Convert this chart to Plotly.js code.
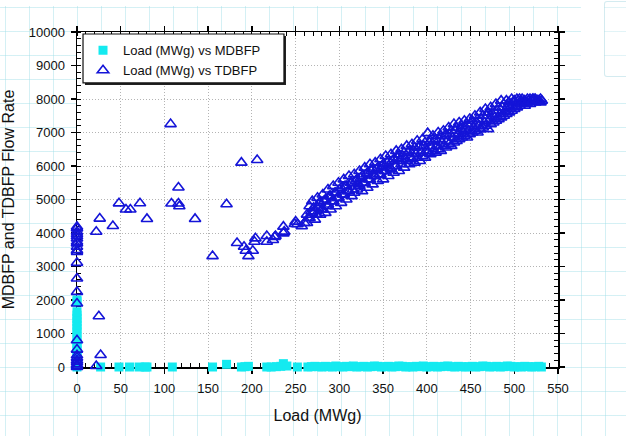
<!DOCTYPE html>
<html>
<head>
<meta charset="utf-8">
<script src="https://cdn.plot.ly/plotly-3.0.1.min.js"></script>
<style>
  html, body { margin: 0; padding: 0; }
  body {
    width: 626px; height: 436px; overflow: hidden; position: relative;
    background-color: #ffffff;
    background-image:
      linear-gradient(to right, rgba(160,222,232,0.45) 1px, transparent 1px),
      linear-gradient(to bottom, rgba(160,222,232,0.45) 1px, transparent 1px);
    background-size: 24px 24px;
    background-position: 5px 7px;
  }
  #whiteTop { position:absolute; left:0; top:0; width:626px; height:6px; background:#fff; }
  #whiteRight { position:absolute; left:581px; top:0; width:45px; height:100px; background:#fff; }
  #panel { position:absolute; left:604px; top:1px; width:30px; height:74px; border:1px solid rgba(170,215,225,0.5); border-radius:3px;
    background-image:
      linear-gradient(to bottom, rgba(170,222,232,0.35) 1px, transparent 1px);
    background-size: 24px 24px; background-position: 0 5px; }
  #chart { position:absolute; left:0; top:0; width:626px; height:436px; }
</style>
</head>
<body>
<div id="whiteTop"></div>
<div id="whiteRight"></div>
<div id="panel"></div>
<div id="chart"></div>
<script>
// ---------- MDBFP (cyan squares) ----------
const mdbfpX0 = [0,0,0,0,0,0,0,0,0,0,0,0,0,0,0,0,0,0,0];
const mdbfpY0 = [0,100,200,300,400,500,600,700,800,900,1050,1150,1250,1350,1450,1550,1650,1950,2000];
const mdbfpLowX = [27,48,60,71,78,80,109,155,171,188,192,196,217,222,228,233,236,240,252,
  264,268,272,276,280,284,288,292,296,300,304,308,312,316,320,324,328,332,336,340,344,348,352,356,360,
  364,368,372,376,380,384,388,392,396,400,404,408,412,416,420,424,428,432,436,440,444,448,452,456,460,
  464,468,472,476,480,484,488,492,496,500,504,508,512,516,520,524,528,531];
const mdbfpLowY = [0,0,0,0,0,0,0,0,80,0,10,20,0,0,10,20,100,30,0,
  0,10,20,10,0,20,10,0,30,10,0,20,10,30,0,10,20,0,10,30,20,0,10,20,0,
  10,30,20,0,10,0,20,10,30,0,10,20,0,10,20,30,10,0,20,10,0,10,20,0,10,
  30,20,0,10,20,0,10,30,20,0,10,0,20,10,0,10,20,0];

// ---------- TDBFP (blue open triangles) ----------
const tdbfpSparseX = [0,0,0,0,0,0,0,0,0,0,0,0,0,0,0,0,0,0,0,0,0,0,0,0,
  22,25,27,22,41,26,48,56,61,72,80,107,108,116,116,117,135,155,171,183,188,191,193,196,201,203,204,206,
  217,217,224,226,227,236,237,236,249,250,252,257,260];
const tdbfpSparseY = [4185,4138,4036,3967,3907,3838,3737,3689,3588,3488,3438,3109,2643,2242,1895,798,520,350,280,200,150,80,40,0,
  30,1515,360,4036,4210,4430,4885,4700,4700,4890,4420,7250,4880,4880,5360,4800,4420,3310,4860,3700,6100,3590,3470,3310,3470,3740,3840,6180,
  3910,3740,3790,3880,3910,3990,4040,4190,4270,4340,4260,4200,4300];

const denseX = [263,266,269,272,275,278,281,284,287,290,293,296,299,302,305,308,311,314,317,320,
  323,326,329,332,335,338,341,344,347,350,353,356,359,362,365,368,371,374,377,380,
  383,386,389,392,395,398,401,404,407,410,413,416,419,422,425,428,431,434,437,440,
  443,446,449,452,455,458,461,464,467,470,473,476,479,482,485,488,491,494,497,500,
  503,506,509,512,515,518,521,524,527,530];
const denseUpper = [4550,4800,4950,4650,5050,4900,5150,5000,5300,5100,5400,5200,5500,5350,5600,5400,5700,5500,5750,5600,
  5850,5700,5950,5800,6050,5900,6100,5950,6200,6050,6300,6150,6350,6200,6450,6350,6500,6400,6600,6450,
  6650,6550,6750,6600,6800,6700,6980,6750,6900,6800,7000,6900,7050,6950,7150,7050,7250,7150,7300,7200,
  7350,7250,7400,7350,7500,7400,7600,7500,7700,7600,7750,7650,7850,7750,7950,7850,7950,7900,8000,7950,
  8000,8000,8000,7950,8000,8000,8000,8000,7950,8000];
const denseLower = [4300,4450,4600,4400,4750,4550,4700,4600,4850,4700,4950,4800,5050,4900,5150,5000,5250,5100,5200,5300,
  5400,5250,5500,5350,5600,5450,5700,5550,5750,5600,5850,5700,5900,5800,6000,5850,6050,5950,6150,6050,
  6200,6100,6250,6150,6300,6250,6400,6350,6450,6400,6500,6450,6600,6550,6650,6600,6700,6750,6800,6850,
  6900,6850,6950,7000,7050,7000,7100,7150,7200,7100,7250,7300,7350,7400,7450,7500,7550,7600,7650,7700,
  7750,7800,7850,7800,7900,7850,7950,7900,7950,7900];
const denseMidX = [264.5,268,270.5,273.5,277,279.5,282.5,286,288.5,291.5,295,297.5,300.5,304,306.5,309.5,313,315.5,318.5,322,
  324.5,327.5,331,333.5,336.5,340,342.5,345.5,349,351.5,354.5,358,360.5,363.5,367,369.5,372.5,376,378.5,381.5,
  385,387.5,390.5,394,396.5,399.5,403,405.5,408.5,412,414.5,417.5,421,423.5,426.5,430,432.5,435.5,439,441.5,
  444.5,448,450.5,453.5,457,459.5,462.5,466,468.5,471.5,475,477.5,480.5,484,486.5,489.5,493,495.5,498.5,502,
  504.5,507.5,511,513.5,516.5,520,522.5,525.5,528.5,531.5];
const denseMid = [4450,4650,4750,4550,4900,4700,4950,4800,5100,4950,5200,5050,5300,5150,5400,5250,5500,5300,5550,5450,
  5650,5500,5750,5600,5850,5700,5900,5750,6000,5850,6100,5950,6150,6000,6250,6150,6300,6200,6400,6250,
  6450,6350,6550,6400,6600,6450,6700,6550,6750,6600,6800,6700,6900,6750,6950,6850,7050,6950,7100,7000,
  7150,7050,7250,7150,7300,7200,7400,7300,7500,7350,7550,7450,7650,7550,7750,7650,7800,7750,7900,7800,
  7950,7900,7950,7900,7950,7950,8000,7950,7950,7950];

const xTickVals = [0,50,100,150,200,250,300,350,400,450,500,550];
const yTickVals = [0,1000,2000,3000,4000,5000,6000,7000,8000,9000,10000];
const yTickText = ['0','1000','2000','3000','4000','5000','6000','7000','8000','9000','10000'];

const seriesNames = ['Load (MWg) vs MDBFP', 'Load (MWg) vs TDBFP'];
const xTitle = 'Load (MWg)';
const yTitle = 'MDBFP and TDBFP Flow Rate';

const mX = mdbfpX0.concat(mdbfpLowX);
const mY = mdbfpY0.concat(mdbfpLowY);
const tX = tdbfpSparseX.concat(denseX, denseMidX, denseX);
const tY = tdbfpSparseY.concat(denseUpper, denseMid, denseLower);

const FONT = 'Arial, "Liberation Sans", sans-serif';

const traces = [
  {
    type: 'scatter', mode: 'markers', name: seriesNames[0],
    x: mX, y: mY, cliponaxis: false,
    marker: { symbol: 'square', size: 9, color: '#14eaf0', line: { width: 0 } }
  },
  {
    type: 'scatter', mode: 'markers', name: seriesNames[1],
    x: tX, y: tY, cliponaxis: false,
    marker: { symbol: 'triangle-up-open', size: 10, color: '#1414d8', line: { width: 1.6, color: '#1414d8' } }
  }
];

const axisCommon = {
  showline: true, linecolor: '#000', linewidth: 1.5, mirror: 'allticks',
  ticks: 'outside', ticklen: 5, tickwidth: 1.5, tickcolor: '#000',
  showgrid: true, gridcolor: '#b4b4b4', gridwidth: 1, griddash: '1px,2px',
  zeroline: false, tickfont: { family: FONT, size: 13, color: '#111' },
  fixedrange: true, layer: 'below traces'
};

const layout = {
  width: 626, height: 436,
  margin: { l: 77, r: 68, t: 32, b: 69 },
  paper_bgcolor: 'rgba(0,0,0,0)', plot_bgcolor: '#ffffff',
  showlegend: true,
  legend: {
    x: 0.0125, y: 0.99, xanchor: 'left', yanchor: 'top',
    bgcolor: 'rgba(0,0,0,0)', borderwidth: 0,
    font: { family: FONT, size: 13, color: '#111' },
    itemclick: false, itemdoubleclick: false
  },
  xaxis: Object.assign({}, axisCommon, {
    range: [0, 550], tickvals: xTickVals, ticklabelstandoff: 4,
    minor: { ticks: 'inside', ticklen: 4, tickwidth: 1, tickcolor: '#000', dtick: 10, showgrid: false },
    title: { text: xTitle, font: { family: FONT, size: 16, color: '#111' }, standoff: 14 }
  }),
  yaxis: Object.assign({}, axisCommon, {
    range: [0, 10000], tickvals: yTickVals, ticktext: yTickText, ticklabelstandoff: 3,
    minor: { ticks: 'inside', ticklen: 4, tickwidth: 1, tickcolor: '#000', dtick: 200, showgrid: false },
    title: { text: yTitle, font: { family: FONT, size: 16, color: '#111' }, standoff: 14 }
  }),
  shapes: [
    { type: 'rect', xref: 'paper', yref: 'paper', layer: 'above',
      x0: 0.0166, x1: 0.4345, y0: 0.842, y1: 0.988,
      line: { width: 0 }, fillcolor: '#222' },
    { type: 'rect', xref: 'paper', yref: 'paper', layer: 'above',
      x0: 0.0125, x1: 0.4303, y0: 0.848, y1: 0.994,
      line: { width: 1.2, color: '#111' }, fillcolor: '#ffffff' }
  ]
};

Plotly.newPlot('chart', traces, layout, { staticPlot: true, displayModeBar: false });
</script>
</body>
</html>
